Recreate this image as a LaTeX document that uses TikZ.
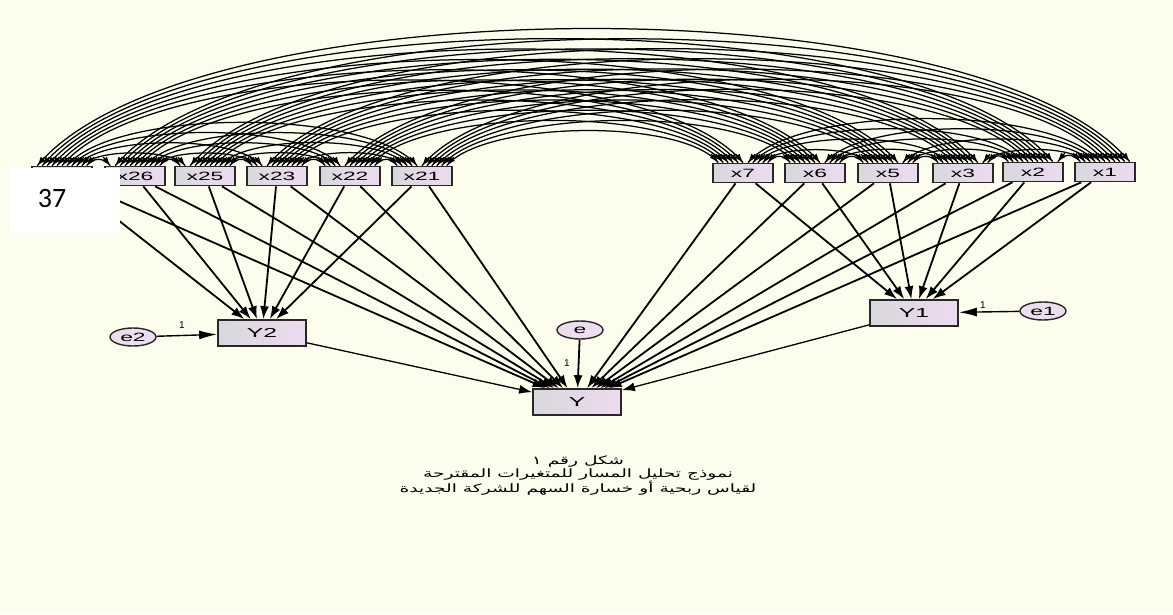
\documentclass[tikz,border=0pt]{standalone}
\usepackage{fontspec}
\usepackage{graphicx}
\setmainfont{Liberation Sans}
\newfontfamily\arabicfont[Script=Arabic]{DejaVu Sans}
\newfontfamily\numfont{Carlito}
\TeXXeTstate=1
\usetikzlibrary{arrows.meta,shapes.geometric,calc}
\definecolor{bg}{RGB}{253,253,238}
\definecolor{boxl}{RGB}{216,216,220}
\definecolor{boxr}{RGB}{238,218,240}
\definecolor{edge}{RGB}{40,40,40}
\definecolor{errfill}{RGB}{236,222,238}
\newcommand\wide[1]{\scalebox{1.9}[1]{#1}}
\newcommand\arab[1]{\scalebox{1.62}[1]{\arabicfont\fontsize{11.5}{13}\selectfont\beginR #1\endR}}
\tikzset{
  xbox/.style={draw=edge, line width=1.7pt, left color=boxl, right color=boxr,
    minimum width=60pt, minimum height=19pt, inner sep=0pt, font=\fontsize{12}{12}\selectfont},
  ybox/.style={xbox, minimum width=88pt, minimum height=26pt, font=\fontsize{13}{13}\selectfont},
  err/.style={ellipse, draw=edge, line width=1.4pt, fill=errfill, minimum width=46pt,
    minimum height=18pt, inner sep=0pt, font=\fontsize{12}{12}\selectfont},
  pth/.style={-{Latex[length=13pt,width=9pt]}, line width=1.8pt},
  epth/.style={-{Latex[length=18pt,width=9pt]}, line width=1.4pt},
  covline/.style={line width=1.25pt},
  covtip/.style={-{Latex[length=9pt,width=6.5pt]}, line width=1.25pt},
  one/.style={font=\fontsize{10}{10}\selectfont, inner sep=1pt}
}
\begin{document}
\begin{tikzpicture}[x=1pt,y=1pt]
\fill[bg] (0,0) rectangle (1173,-614);
\useasboundingbox (0,0) rectangle (1173,-614);

% observed variables
\node[xbox] (n1) at (62,-176) {};
\node[xbox] (n2) at (135,-176) {\wide{x26}};
\node[xbox] (n3) at (205,-176) {\wide{x25}};
\node[xbox] (n4) at (277,-176) {\wide{x23}};
\node[xbox] (n5) at (350,-176) {\wide{x22}};
\node[xbox] (n6) at (422,-176) {\wide{x21}};
\node[xbox] (n7) at (743,-173) {\wide{x7}};
\node[xbox] (n8) at (815,-173) {\wide{x6}};
\node[xbox] (n9) at (888,-173) {\wide{x5}};
\node[xbox] (n10) at (963,-173) {\wide{x3}};
\node[xbox] (n11) at (1033,-172) {\wide{x2}};
\node[xbox] (n12) at (1105,-172) {\wide{x1}};

% endogenous
\node[ybox] (Y2) at (262,-333) {\wide{Y2}};
\node[ybox] (Y) at (577,-402) {\wide{Y}};
\node[ybox] (Y1) at (914,-313) {\wide{Y1}};

% errors
\node[err] (e2) at (133,-337) {\wide{e2}};
\node[err] (e) at (580,-330) {\wide{e}};
\node[err] (e1) at (1043,-311) {\wide{e1}};

% paths
\foreach \i in {1,...,6} \draw[pth] (n\i) -- (Y2);
\foreach \i in {7,...,12} \draw[pth] (n\i) -- (Y1);
\foreach \i in {1,...,12} \draw[pth] (n\i) -- (Y);
\draw[pth, line width=1.3pt] (Y2) -- (Y);
\draw[pth, line width=1.3pt] (Y1) -- (Y);
\draw[pth] (e) -- (Y);
\draw[epth] (e2) -- (Y2);
\draw[epth] (e1) -- (Y1);
\node[one] (o2) at (182,-325) {1};
\node[one] (o0) at (567,-363) {1};
\node[one] (o1) at (983,-305) {1};

% covariances (nested attachment order on each box top)
\foreach \i in {1,...,11}{
  \pgfmathtruncatemacro\ip{\i+1}
  \foreach \j in {\ip,...,12}{
    \pgfmathtruncatemacro\sa{\i+11-\j}
    \pgfmathtruncatemacro\sb{\j-1-\i}
    \pgfmathsetmacro\fa{0.1+0.08*\sa}
    \pgfmathsetmacro\fb{0.1+0.08*\sb}
    \coordinate (ca) at ($(n\i.north west)!\fa!(n\i.north east)$);
    \coordinate (cb) at ($(n\j.north west)!\fb!(n\j.north east)$);
    \draw[covline] let \p1=(ca), \p2=(cb), \n1={max(0.2153*(\x2-\x1),11)} in
      (ca) .. controls +(50:\n1) and +(130:\n1) .. (cb);
    \draw[covtip] ($(ca)+(50:11)$) -- (ca);
    \draw[covtip] ($(cb)+(130:11)$) -- (cb);
  }
}

% caption
\node (c1) at (578,-462) {\arab{شكل رقم ١}};
\node (c2) at (578,-475) {\arab{نموذج تحليل المسار للمتغيرات المقترحة}};
\node (c3) at (578,-488) {\arab{لقياس ربحية أو خسارة السهم للشركة الجديدة}};

% page number patch
\fill[white] (10,-168) rectangle (120,-233);
\node (pg) at (52,-199) {\numfont\fontsize{28}{28}\selectfont 37};
\end{tikzpicture}
\end{document}
